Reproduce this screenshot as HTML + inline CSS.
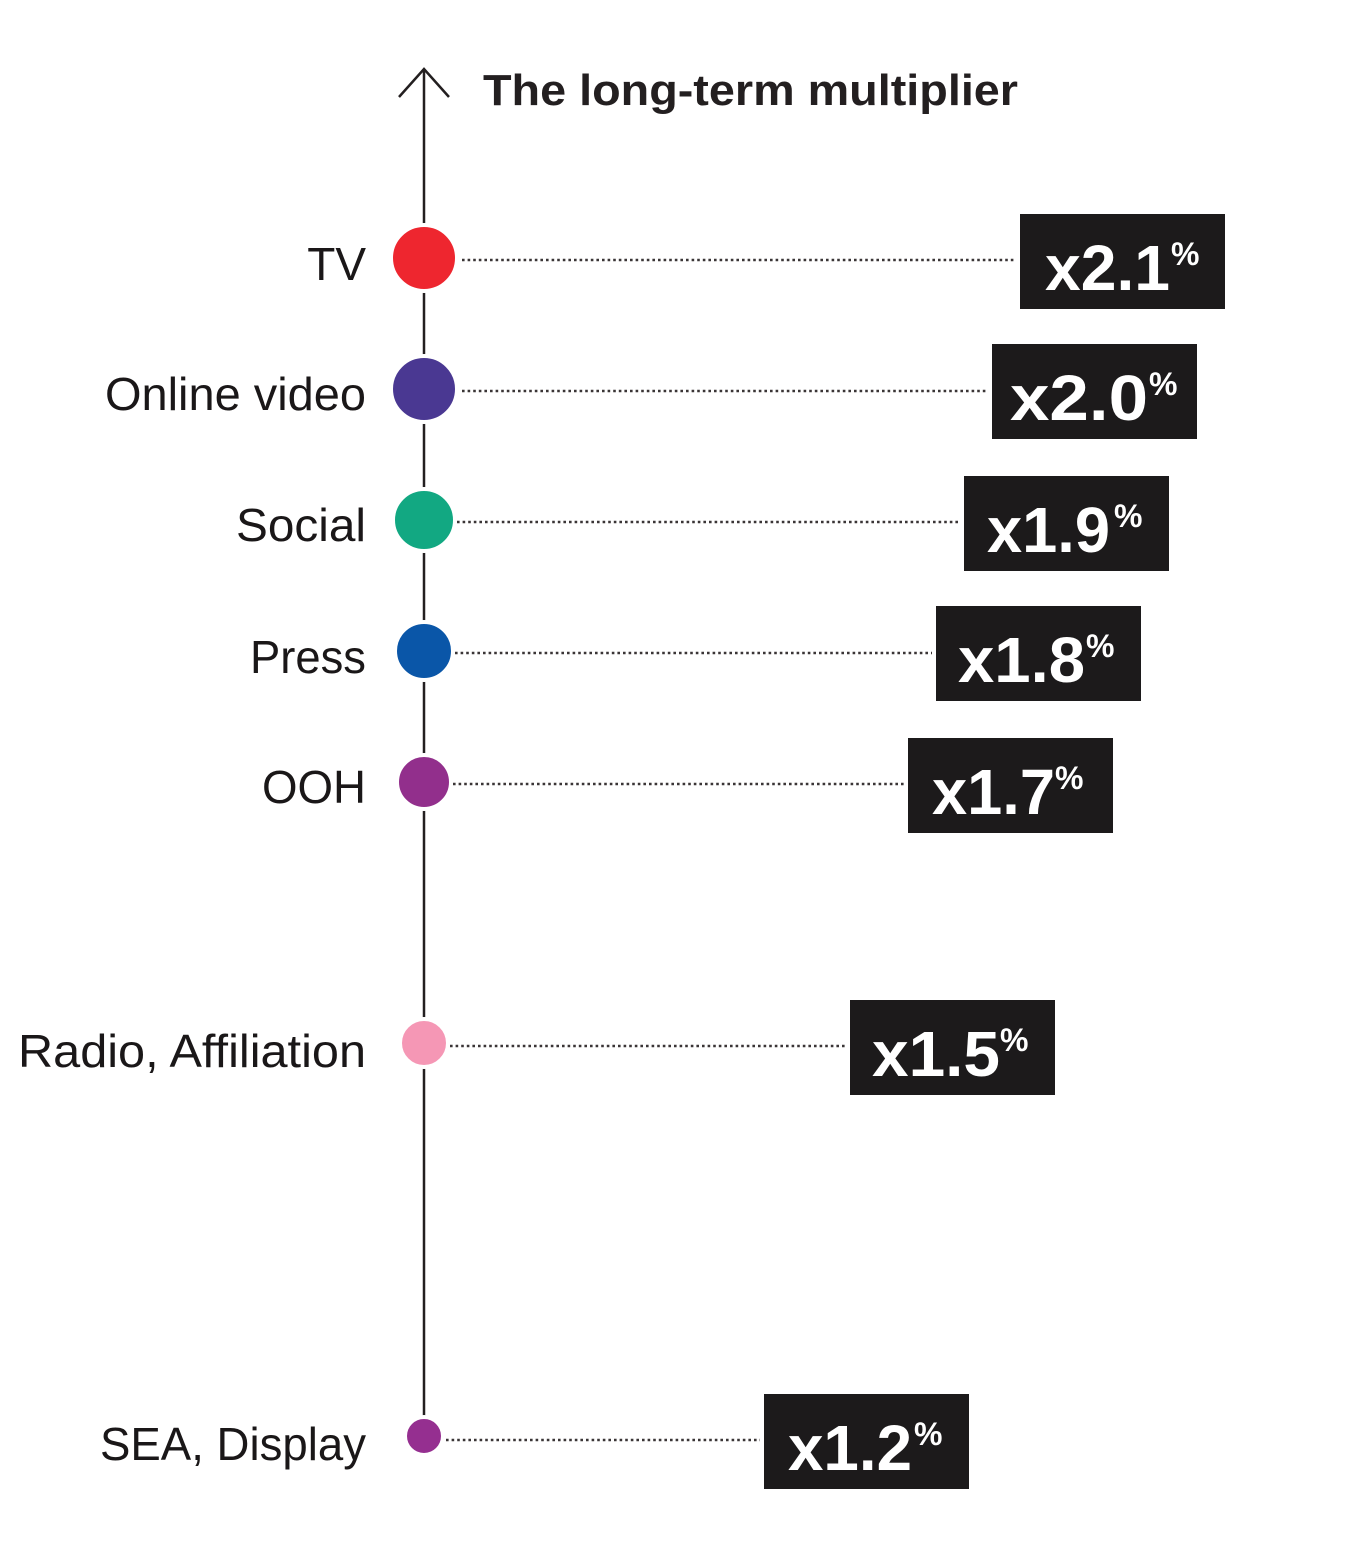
<!DOCTYPE html>
<html><head><meta charset="utf-8"><style>
html,body{margin:0;padding:0;background:#fff;}
svg{display:block;}
.lbl{font-family:"Liberation Sans",sans-serif;font-size:46px;fill:#1a1718;}
.val{font-family:"Liberation Sans",sans-serif;font-size:64px;font-weight:bold;fill:#fff;}
.pct{font-family:"Liberation Sans",sans-serif;font-size:32px;font-weight:bold;fill:#fff;}
</style></head><body>
<svg width="1368" height="1550" viewBox="0 0 1368 1550" xmlns="http://www.w3.org/2000/svg">
<line x1="424" y1="70" x2="424" y2="1418" stroke="#231f20" stroke-width="2.5"/>
<polyline points="399,97 424,69 449,97" fill="none" stroke="#231f20" stroke-width="2.5"/>
<text x="483" y="105" font-family="Liberation Sans, sans-serif" font-size="44" font-weight="bold" fill="#231f20" textLength="535" lengthAdjust="spacingAndGlyphs">The long-term multiplier</text>
<g stroke="#3a3536" stroke-width="2.6" stroke-dasharray="2.6 3" stroke-linecap="butt">
<line x1="462" y1="260" x2="1016" y2="260"/>
<line x1="462" y1="391" x2="988" y2="391"/>
<line x1="457" y1="522" x2="960" y2="522"/>
<line x1="455" y1="653" x2="932" y2="653"/>
<line x1="453" y1="784" x2="904" y2="784"/>
<line x1="450" y1="1046" x2="846" y2="1046"/>
<line x1="446" y1="1440" x2="760" y2="1440"/>
</g>
<g stroke="#fff" stroke-width="4">
<circle cx="424" cy="258" r="33" fill="#ee262f"/>
<circle cx="424" cy="389" r="33" fill="#4a3892"/>
<circle cx="424" cy="520" r="31" fill="#12a882"/>
<circle cx="424" cy="651" r="29" fill="#0a56a8"/>
<circle cx="424" cy="782" r="27" fill="#922f8c"/>
<circle cx="424" cy="1043" r="24" fill="#f597b5"/>
<circle cx="424" cy="1436" r="19" fill="#952f90"/>
</g>
<g text-anchor="end" class="lbl">
<text class="lbl" x="366" y="280">TV</text>
<text class="lbl" x="366" y="410" textLength="261" lengthAdjust="spacingAndGlyphs">Online video</text>
<text class="lbl" x="366" y="541" textLength="130" lengthAdjust="spacingAndGlyphs">Social</text>
<text class="lbl" x="366" y="673" textLength="116" lengthAdjust="spacingAndGlyphs">Press</text>
<text class="lbl" x="366" y="803" textLength="104" lengthAdjust="spacingAndGlyphs">OOH</text>
<text class="lbl" x="366" y="1067" textLength="348" lengthAdjust="spacingAndGlyphs">Radio, Affiliation</text>
<text class="lbl" x="366" y="1460" textLength="266" lengthAdjust="spacingAndGlyphs">SEA, Display</text>
</g>
<g fill="#1c1a1b">
<rect x="1020" y="214" width="205" height="95"/>
<rect x="992" y="344" width="205" height="95"/>
<rect x="964" y="476" width="205" height="95"/>
<rect x="936" y="606" width="205" height="95"/>
<rect x="908" y="738" width="205" height="95"/>
<rect x="850" y="1000" width="205" height="95"/>
<rect x="764" y="1394" width="205" height="95"/>
</g>
<text class="val" x="1045" y="290" textLength="125" lengthAdjust="spacingAndGlyphs">x2.1</text><text class="pct" x="1171" y="265">%</text>
<text class="val" x="1010" y="420" textLength="138" lengthAdjust="spacingAndGlyphs">x2.0</text><text class="pct" x="1149" y="395">%</text>
<text class="val" x="987" y="552" textLength="123" lengthAdjust="spacingAndGlyphs">x1.9</text><text class="pct" x="1114" y="527">%</text>
<text class="val" x="958" y="682" textLength="127" lengthAdjust="spacingAndGlyphs">x1.8</text><text class="pct" x="1086" y="657">%</text>
<text class="val" x="932" y="814" textLength="123" lengthAdjust="spacingAndGlyphs">x1.7</text><text class="pct" x="1055" y="789">%</text>
<text class="val" x="872" y="1076" textLength="128" lengthAdjust="spacingAndGlyphs">x1.5</text><text class="pct" x="1000" y="1051">%</text>
<text class="val" x="788" y="1470" textLength="124" lengthAdjust="spacingAndGlyphs">x1.2</text><text class="pct" x="914" y="1445">%</text>
</svg>
</body></html>
